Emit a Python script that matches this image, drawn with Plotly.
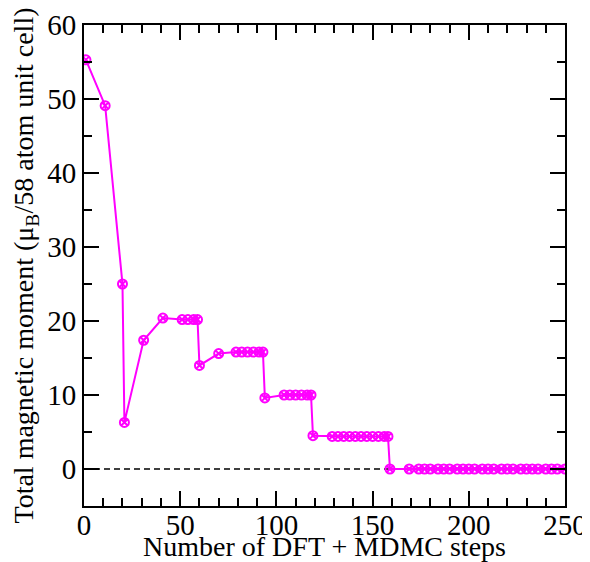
import plotly.graph_objects as go

steps = [1, 11, 20, 21, 31, 41,
         51, 54, 57, 59, 60, 70,
         79, 82, 85, 88, 91, 93, 94,
         104, 107, 110, 113, 116, 118, 119,
         129, 132, 135, 138, 141, 144, 147, 150, 153, 156, 158, 159,
         169, 174, 177, 180, 184, 187, 190, 194, 197, 200, 203, 207, 210,
         213, 217, 220, 223, 227, 230, 233, 236, 240, 243, 246, 250]
moment = [55.3, 49.1, 25.0, 6.3, 17.4, 20.4,
          20.2, 20.2, 20.2, 20.2, 14.0, 15.6,
          15.8, 15.8, 15.8, 15.8, 15.8, 15.8, 9.6,
          10.0, 10.0, 10.0, 10.0, 10.0, 10.0, 4.5,
          4.4, 4.4, 4.4, 4.4, 4.4, 4.4, 4.4, 4.4, 4.4, 4.4, 4.4, 0.0,
          0.0, 0.0, 0.0, 0.0, 0.0, 0.0, 0.0, 0.0, 0.0, 0.0, 0.0, 0.0, 0.0,
          0.0, 0.0, 0.0, 0.0, 0.0, 0.0, 0.0, 0.0, 0.0, 0.0, 0.0, 0.0]

x_range = [0, 250]
y_range = [-5, 60]
x_title = "Number of DFT + MDMC steps"
y_title = "Total magnetic moment (μ<sub>B</sub>/58 atom unit cell)"

FONT = "Liberation Serif"

fig = go.Figure()
fig.add_shape(type="line", xref="x", yref="y", x0=x_range[0], x1=x_range[1], y0=0, y1=0,
              line=dict(color="black", width=1.5, dash="6px,4px"), layer="below")
fig.add_trace(go.Scatter(
    x=steps, y=moment, mode="lines+markers",
    line=dict(color="#ff00ff", width=2),
    marker=dict(symbol="circle-x-open", size=9, color="#ff00ff", line=dict(width=2, color="#ff00ff")),
    showlegend=False,
))

axis_common = dict(
    showgrid=False, zeroline=False, showline=True, linecolor="black", linewidth=2,
    mirror="allticks", ticks="inside", ticklen=15, tickwidth=1.5, tickcolor="black",
    tickfont=dict(family=FONT, size=29, color="black"), automargin=False,
)
fig.update_xaxes(range=x_range, dtick=50, tick0=0, ticklabelstandoff=-8,
                 minor=dict(ticks="inside", ticklen=8, dtick=10, tickwidth=1.5, tickcolor="black"),
                 title=dict(text=x_title, font=dict(family=FONT, size=28, color="black"), standoff=4),
                 **axis_common)
fig.update_yaxes(range=y_range, dtick=10, tick0=0,
                 minor=dict(ticks="inside", ticklen=8, dtick=5, tickwidth=1.5, tickcolor="black"),
                 title=dict(text=y_title, font=dict(family=FONT, size=28, color="black"), standoff=6),
                 **axis_common)
# the page body adds an 8px offset, so the figure is sized/margined to compensate
fig.update_layout(
    width=582, height=554,
    margin=dict(l=76, r=25, t=17, b=56),
    paper_bgcolor="white", plot_bgcolor="white",
    font=dict(family=FONT, color="black"),
)
fig.write_html("out.html")
